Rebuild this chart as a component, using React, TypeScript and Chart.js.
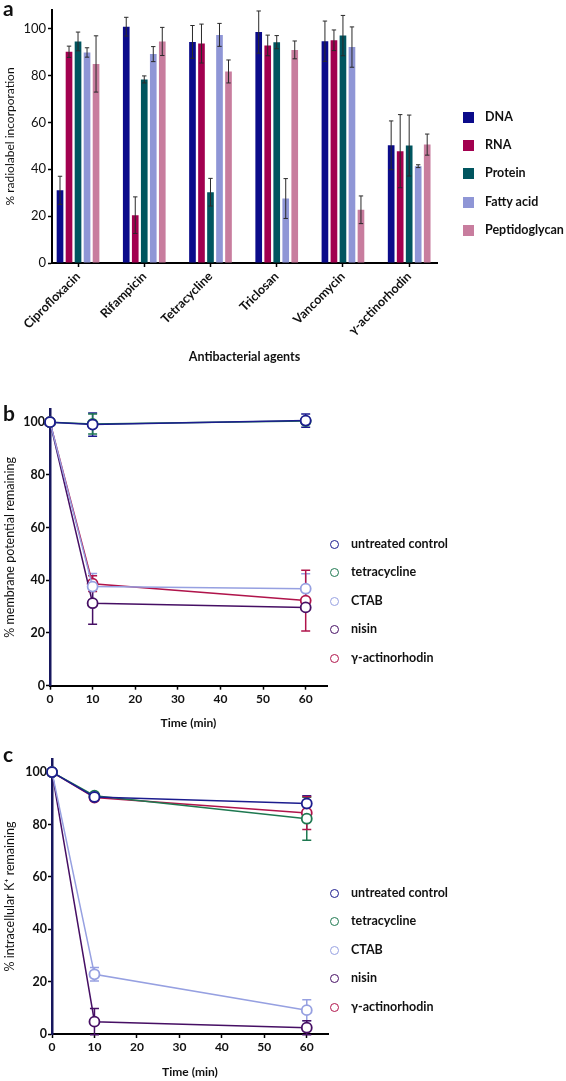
import React, { useEffect, useRef } from "react";
import { Chart, registerables } from "chart.js";
Chart.register(...registerables);

// ---------- Panel a data ----------
const agents = ["Ciprofloxacin", "Rifampicin", "Tetracycline", "Triclosan", "Vancomycin", "γ-actinorhodin"];
const dnaValues = [31, 100.8, 94.3, 98.5, 94.6, 50.2];
const dnaErrors = [6, 4, 7, 9, 8.6, 10.4];
const rnaValues = [90.1, 20.4, 93.6, 92.8, 95.0, 47.7];
const rnaErrors = [2.4, 7.8, 8.3, 4.4, 4.4, 15.6];
const proteinValues = [94.5, 78.3, 30.2, 94.2, 97.0, 50.1];
const proteinErrors = [4, 1.5, 5.9, 2.8, 8.6, 13];
const fattyAcidValues = [89.8, 89.1, 97.3, 27.5, 92.1, 41.3];
const fattyAcidErrors = [2, 3.2, 4.9, 8.5, 8.6, 0.6];
const peptidoglycanValues = [84.9, 94.5, 81.7, 90.9, 22.7, 50.5];
const peptidoglycanErrors = [12, 6, 4.9, 3.8, 5.9, 4.5];
const barYTicks = [0, 20, 40, 60, 80, 100];

// ---------- Panels b & c shared ----------
const timePoints = [0, 10, 60];
const timeTicks = [0, 10, 20, 30, 40, 50, 60];
const pctTicks = [0, 20, 40, 60, 80, 100];
const treatmentLabels = ["untreated control", "tetracycline", "CTAB", "nisin", "γ-actinorhodin"];

// ---------- Panel b data (membrane potential) ----------
const mpUntreated = [100, 99.1, 100.6];
const mpUntreatedErr = [0, 4.4, 2.5];
const mpTetracycline = [100, 99.3, 100.4];
const mpTetracyclineErr = [0, 3.8, 1.2];
const mpCTAB = [100, 37.6, 36.8];
const mpCTABErr = [0, 5, 5.7];
const mpNisin = [100, 31.3, 29.7];
const mpNisinErr = [0, 8, 0];
const mpActinorhodin = [100, 38.7, 32.3];
const mpActinorhodinErr = [0, 3, 11.5];

// ---------- Panel c data (intracellular K+) ----------
const kUntreated = [100, 90.5, 88];
const kUntreatedErr = [0, 1, 3];
const kTetracycline = [100, 91, 82.2];
const kTetracyclineErr = [0, 1, 8.2];
const kCTAB = [100, 22.8, 9.1];
const kCTABErr = [0, 2.6, 4];
const kNisin = [100, 4.7, 2.4];
const kNisinErr = [0, 5, 2.7];
const kActinorhodin = [100, 90.3, 84.4];
const kActinorhodinErr = [0, 1, 6.3];

// ---------- styles ----------
const FONT = "Lato";
const TEXT = "#111";
const barColors = ["#0b0b8a", "#a2004f", "#00555f", "#8f96d6", "#c87d9e"];
const barLabels = ["DNA", "RNA", "Protein", "Fatty acid", "Peptidoglycan"];
const lineColors = ["#1c1c8e", "#1e7850", "#96a0e1", "#460f64", "#b0144b"];

function errorBars(cfg: { layer: "before" | "after"; color?: string; width: number; cap: number }) {
  const draw = (chart: any) => {
    const ctx = chart.ctx;
    const yScale = chart.scales.y;
    chart.data.datasets.forEach((ds: any, i: number) => {
      const errs = ds.errors;
      if (!errs) return;
      const meta = chart.getDatasetMeta(i);
      meta.data.forEach((el: any, j: number) => {
        const e = errs[j];
        if (!e) return;
        const raw = ds.data[j];
        const v = typeof raw === "number" ? raw : raw.y;
        const x = el.x;
        const yt = yScale.getPixelForValue(v + e);
        const yb = yScale.getPixelForValue(v - e);
        ctx.save();
        ctx.strokeStyle = cfg.color || ds.borderColor;
        ctx.lineWidth = cfg.width;
        ctx.beginPath();
        ctx.moveTo(x, yt);
        ctx.lineTo(x, yb);
        ctx.moveTo(x - cfg.cap, yt);
        ctx.lineTo(x + cfg.cap, yt);
        ctx.moveTo(x - cfg.cap, yb);
        ctx.lineTo(x + cfg.cap, yb);
        ctx.stroke();
        ctx.restore();
      });
    });
  };
  return {
    id: "errorBars" + cfg.layer,
    beforeDatasetsDraw(chart: any) {
      if (cfg.layer === "before") draw(chart);
    },
    afterDatasetsDraw(chart: any) {
      if (cfg.layer === "after") draw(chart);
    },
  };
}

const axisGrid = { display: true, drawOnChartArea: false, drawTicks: true, tickLength: 4, tickColor: "#000", tickWidth: 1.5 };

function makeBarConfig(): any {
  const series = [
    { values: dnaValues, errors: dnaErrors },
    { values: rnaValues, errors: rnaErrors },
    { values: proteinValues, errors: proteinErrors },
    { values: fattyAcidValues, errors: fattyAcidErrors },
    { values: peptidoglycanValues, errors: peptidoglycanErrors },
  ];
  return {
    type: "bar",
    data: {
      datasets: series.map((s, k) => ({
        label: barLabels[k],
        data: s.values.map((v, i) => ({ x: i, y: v })),
        errors: s.errors,
        backgroundColor: barColors[k],
        borderWidth: 0,
        categoryPercentage: 0.68,
        barPercentage: 0.74,
      })),
    },
    options: {
      responsive: false,
      animation: false,
      devicePixelRatio: 1,
      layout: { padding: { top: 6, right: 129, left: 0, bottom: 0 } },
      plugins: { legend: { display: false }, tooltip: { enabled: false } },
      scales: {
        x: {
          type: "linear",
          offset: false,
          min: -0.393,
          max: 5.42,
          afterBuildTicks: (s: any) => {
            s.ticks = agents.map((_, i) => ({ value: i }));
          },
          afterFit: (s: any) => {
            s.height = 117;
          },
          ticks: {
            callback: (v: any) => agents[Math.round(Number(v))] ?? "",
            minRotation: 45,
            maxRotation: 45,
            autoSkip: false,
            padding: 2,
            color: TEXT,
            font: { family: FONT, size: 12.5, weight: "bold" },
          },
          grid: { ...axisGrid, offset: false },
          border: { display: true, color: "#000", width: 2 },
          title: {
            display: true,
            text: "Antibacterial agents",
            color: TEXT,
            font: { family: FONT, size: 12.5, weight: "bold" },
            padding: { top: 0, bottom: 15.5 },
          },
        },
        y: {
          min: 0,
          max: 108,
          afterBuildTicks: (s: any) => {
            s.ticks = barYTicks.map((v) => ({ value: v }));
          },
          afterFit: (s: any) => {
            s.width = 52;
          },
          ticks: { padding: 2, color: TEXT, font: { family: FONT, size: 13 } },
          grid: axisGrid,
          border: { display: true, color: "#000", width: 2 },
          title: {
            display: true,
            text: "% radiolabel incorporation",
            color: TEXT,
            font: { family: FONT, size: 12 },
            padding: { top: 3, bottom: 0 },
          },
        },
      },
    },
    plugins: [errorBars({ layer: "after", color: "#2a2a2a", width: 1, cap: 2.2 })],
  };
}

function makeLineConfig(
  values: number[][],
  errors: number[][],
  yTitle: string,
  o: { top: number; right: number; axisH: number; leftW: number; titlePad: number }
): any {
  return {
    type: "line",
    data: {
      datasets: values.map((vals, k) => ({
        label: treatmentLabels[k],
        data: timePoints.map((t, i) => ({ x: t, y: vals[i] })),
        errors: errors[k],
        borderColor: lineColors[k],
        backgroundColor: "#fff",
        borderWidth: 1.5,
        pointRadius: 5,
        pointBorderWidth: 1.8,
        pointBackgroundColor: "#fff",
        pointBorderColor: lineColors[k],
        tension: 0,
        fill: false,
        clip: false,
      })),
    },
    options: {
      responsive: false,
      animation: false,
      devicePixelRatio: 1,
      layout: { padding: { top: o.top, right: o.right, left: 0, bottom: 0 } },
      plugins: { legend: { display: false }, tooltip: { enabled: false } },
      scales: {
        x: {
          type: "linear",
          min: 0,
          max: 65,
          afterBuildTicks: (s: any) => {
            s.ticks = timeTicks.map((v) => ({ value: v }));
          },
          afterFit: (s: any) => {
            s.height = o.axisH;
          },
          ticks: { padding: 2, color: TEXT, maxRotation: 0, font: { family: FONT, size: 12, weight: "bold" } },
          grid: axisGrid,
          border: { display: true, color: "#000", width: 2 },
          title: {
            display: true,
            text: "Time (min)",
            color: TEXT,
            font: { family: FONT, size: 12, weight: "bold" },
            padding: { top: 0, bottom: o.titlePad },
          },
        },
        y: {
          min: 0,
          max: 105,
          afterBuildTicks: (s: any) => {
            s.ticks = pctTicks.map((v) => ({ value: v }));
          },
          afterFit: (s: any) => {
            s.width = o.leftW;
          },
          ticks: { padding: 1, color: TEXT, font: { family: FONT, size: 12.5, weight: "bold" } },
          grid: axisGrid,
          border: { display: true, color: "#17175e", width: 2.5 },
          title: {
            display: true,
            text: yTitle,
            color: TEXT,
            font: { family: FONT, size: 12.5 },
            padding: { top: 2.5, bottom: 0 },
          },
        },
      },
    },
    plugins: [errorBars({ layer: "before", width: 1.5, cap: 4.5 })],
  };
}

function ChartBox({ top, height, make }: { top: number; height: number; make: () => any }) {
  const ref = useRef<HTMLCanvasElement>(null);
  useEffect(() => {
    const chart = new Chart(ref.current as HTMLCanvasElement, make());
    return () => chart.destroy();
  }, []);
  return (
    <canvas
      ref={ref}
      width={566}
      height={height}
      style={{ position: "absolute", left: 0, top, width: 566, height }}
    />
  );
}

const labelStyle: React.CSSProperties = {
  position: "absolute",
  fontFamily: FONT,
  fontWeight: 700,
  color: TEXT,
  whiteSpace: "nowrap",
};

function PanelLetter({ letter, top }: { letter: string; top: number }) {
  return <div style={{ ...labelStyle, left: 3, top, fontSize: 21, lineHeight: "21px" }}>{letter}</div>;
}

function SquareLegend({ ys }: { ys: number[] }) {
  return (
    <>
      {barLabels.map((l, i) => (
        <React.Fragment key={l}>
          <div style={{ position: "absolute", left: 463, top: ys[i] - 5.5, width: 10.5, height: 11, background: barColors[i] }} />
          <div style={{ ...labelStyle, left: 485, top: ys[i] - 9, fontSize: 12.5, lineHeight: "18px" }}>{l}</div>
        </React.Fragment>
      ))}
    </>
  );
}

function CircleLegend({ ys }: { ys: number[] }) {
  return (
    <>
      {treatmentLabels.map((l, i) => (
        <React.Fragment key={l}>
          <div
            style={{
              position: "absolute",
              left: 334 - 4.5,
              top: ys[i] - 4.5,
              width: 9,
              height: 9,
              boxSizing: "border-box",
              border: `1.8px solid ${lineColors[i]}`,
              borderRadius: "50%",
            }}
          />
          <div style={{ ...labelStyle, left: 351, top: ys[i] - 9, fontSize: 12.5, lineHeight: "18px" }}>{l}</div>
        </React.Fragment>
      ))}
    </>
  );
}

export default function App() {
  return (
    <div style={{ position: "absolute", left: 0, top: 0, width: 566, height: 1081, background: "#fff", overflow: "hidden" }}>
      <ChartBox top={0} height={380} make={makeBarConfig} />
      <ChartBox
        top={380}
        height={360}
        make={() =>
          makeLineConfig(
            [mpUntreated, mpTetracycline, mpCTAB, mpNisin, mpActinorhodin],
            [mpUntreatedErr, mpTetracyclineErr, mpCTABErr, mpNisinErr, mpActinorhodinErr],
            "% membrane potential remaining",
            { top: 29, right: 239, axisH: 54.3, leftW: 50, titlePad: 9.8 }
          )
        }
      />
      <ChartBox
        top={740}
        height={341}
        make={() =>
          makeLineConfig(
            [kUntreated, kTetracycline, kCTAB, kNisin, kActinorhodin],
            [kUntreatedErr, kTetracyclineErr, kCTABErr, kNisinErr, kActinorhodinErr],
            "% intracellular K⁺ remaining",
            { top: 19, right: 238, axisH: 47, leftW: 52, titlePad: 2 }
          )
        }
      />
      <PanelLetter letter="a" top={-3} />
      <PanelLetter letter="b" top={402} />
      <PanelLetter letter="c" top={743} />
      <SquareLegend ys={[117, 145, 173, 202, 230]} />
      <CircleLegend ys={[544, 572, 601, 629, 658]} />
      <CircleLegend ys={[893, 921, 950, 978, 1007]} />
    </div>
  );
}
